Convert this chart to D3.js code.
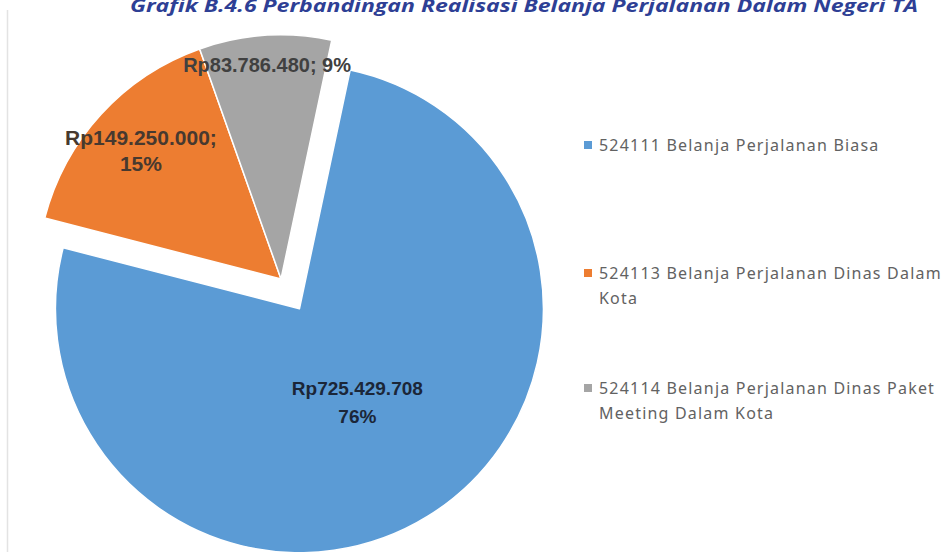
<!DOCTYPE html>
<html>
<head>
<meta charset="utf-8">
<script src="https://cdn.jsdelivr.net/npm/d3@7"></script>
<style>
  body { margin: 0; background: white; }
  svg { display: block; }
</style>
</head>
<body>
<div id="chart"></div>
<script>
// Pie chart: realisasi belanja perjalanan dalam negeri.

var TITLE = "Grafik B.4.6 Perbandingan Realisasi Belanja Perjalanan Dalam Negeri TA";

// Series, in legend order.
var codes = ["524111", "524113", "524114"];
var values = [725429708, 149250000, 83786480];
var valueLabels = ["Rp725.429.708", "Rp149.250.000;", "Rp83.786.480;"];
var percentLabels = ["76%", "15%", "9%"];
var legendLines = [
    ["524111 Belanja Perjalanan Biasa"],
    ["524113 Belanja Perjalanan Dinas Dalam", "Kota"],
    ["524114 Belanja Perjalanan Dinas Paket", "Meeting Dalam Kota"]
];
var colors = ["#5b9bd5", "#ed7d31", "#a5a5a5"];

var W = 949, H = 552;
var pieCenter = {x: 281, y: 279};
var radius = 244;
var firstSliceAngle = 12;      // degrees, like Excel's "angle of first slice"
var explode = [35, 0, 0];      // px pushed out along the slice middle
var labelRadius = [110, 190, 214];
var legendX = 584, legendY = [145, 273, 388], legendLine = 25;

/**
  * Creates the svg to draw on.
  */
function createGraph(elementId, w, h){
    return d3.select("#" + elementId)
        .append("svg")
        .attr("width", w)
        .attr("height", h)
        .style("background-color", "white");
}

var svg = createGraph("chart", W, H);

// faint border of the chart area on the left
svg.append("line")
    .attr("x1", 7.5).attr("x2", 7.5)
    .attr("y1", 10).attr("y2", H)
    .attr("stroke", "#e3e3e3")
    .attr("stroke-width", 1.5);

// title, cut at the top as in the scan
svg.append("text")
    .attr("x", 130)
    .attr("y", 12)
    .attr("textLength", 788)
    .attr("lengthAdjust", "spacingAndGlyphs")
    .style("font-family", "'Open Sans', sans-serif")
    .style("font-weight", "700")
    .style("font-style", "italic")
    .style("font-size", "18px")
    .style("fill", "#2e3f95")
    .text(TITLE);

var pie = d3.pie()
    .sort(null)
    .startAngle(firstSliceAngle * Math.PI / 180)
    .endAngle(firstSliceAngle * Math.PI / 180 + 2 * Math.PI)
    .value(function(d){ return d; });

var arc = d3.arc().innerRadius(0).outerRadius(radius);
var arcs = pie(values);

function offset(a, dist){
    var mid = (a.startAngle + a.endAngle) / 2;
    return [Math.sin(mid) * dist, -Math.cos(mid) * dist];
}

var g = svg.append("g")
    .attr("transform", "translate(" + pieCenter.x + "," + pieCenter.y + ")");

var slices = g.selectAll(".slice")
    .data(arcs)
    .enter().append("g")
    .attr("class", "slice")
    .attr("transform", function(d, i){
        var o = offset(d, explode[i]);
        return "translate(" + o[0] + "," + o[1] + ")";
    });

slices.append("path")
    .attr("d", arc)
    .attr("fill", function(d, i){ return colors[i]; })
    .attr("stroke", "white")
    .attr("stroke-width", 1.5)
    .attr("stroke-linejoin", "round");

// data labels
var labelColor = ["#1b2638", "#47392f", "#404040"];
var labelSize = [19, 21, 20];
slices.each(function(d, i){
    var o = offset(d, labelRadius[i]);
    var t = d3.select(this).append("text")
        .attr("text-anchor", "middle")
        .style("font-family", "'Liberation Sans', Arial, sans-serif")
        .style("font-weight", "700")
        .style("font-size", labelSize[i] + "px")
        .style("fill", labelColor[i]);
    if (i == 2){
        // single line label
        t.attr("x", o[0]).attr("y", o[1] + 7)
            .text(valueLabels[i] + " " + percentLabels[i]);
    } else {
        var gap = i == 0 ? 28 : 26;
        t.append("tspan").attr("x", o[0]).attr("y", o[1] - gap / 2 + 7).text(valueLabels[i]);
        t.append("tspan").attr("x", o[0]).attr("y", o[1] + gap / 2 + 7).text(percentLabels[i]);
    }
});

// legend
var legend = svg.selectAll(".legend")
    .data(codes)
    .enter().append("g")
    .attr("class", "legend")
    .attr("transform", function(d, i){ return "translate(" + legendX + "," + legendY[i] + ")"; });

legend.append("rect")
    .attr("x", 0).attr("y", -4)
    .attr("width", 8).attr("height", 8)
    .attr("fill", function(d, i){ return colors[i]; });

legend.append("text")
    .style("font-family", "'Noto Sans', sans-serif")
    .style("font-size", "16px")
    .style("letter-spacing", "1.2px")
    .style("fill", "#626262")
    .each(function(d, i){
        var t = d3.select(this);
        legendLines[i].forEach(function(line, k){
            t.append("tspan")
                .attr("x", 15)
                .attr("y", 6 + k * legendLine)
                .text(line);
        });
    });
</script>
</body>
</html>
